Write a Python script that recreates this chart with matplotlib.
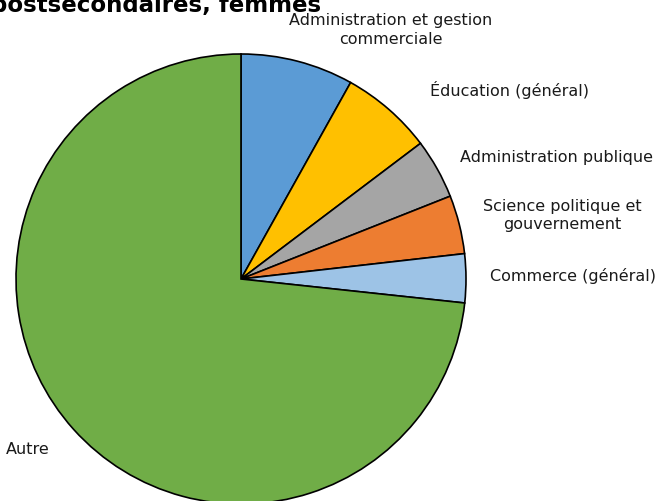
import matplotlib.pyplot as plt

labels = ['Administration et gestion\ncommerciale', 'Éducation (général)',
          'Administration publique', 'Science politique et\ngouvernement',
          'Commerce (général)', 'Autre']
values = [8.1, 6.6, 4.3, 4.2, 3.5, 73.3]
colors = ['#5B9BD5', '#FFC000', '#A5A5A5', '#ED7D31', '#9DC3E6', '#70AD47']

# label anchor points in figure pixels (x, y from top)
label_pos = [(391, 30), (510, 90), (557, 157), (562, 215), (573, 276), (28, 450)]

W, H = 661, 501
fig = plt.figure(figsize=(W / 100, H / 100), dpi=100)
cx, cy, r = 241, 279, 225
ax = fig.add_axes([(cx - r) / W, (H - cy - r) / H, 2 * r / W, 2 * r / H])
ax.pie(values, colors=colors, startangle=90, counterclock=False,
       wedgeprops=dict(edgecolor='black', linewidth=1.2))
ax.set_xlim(-1, 1)
ax.set_ylim(-1, 1)
ax.set_aspect('equal')
ax.axis('off')

for lab, (x, y) in zip(labels, label_pos):
    fig.text(x / W, 1 - y / H, lab, ha='center', va='center', fontsize=11.5,
             color='#1a1a1a', linespacing=1.25)

fig.text(-9 / W, 1 - 12 / H, 'postsecondaires, femmes', ha='left', va='baseline',
         fontsize=16.5, fontweight='bold')

fig.savefig('out.png', dpi=100)
